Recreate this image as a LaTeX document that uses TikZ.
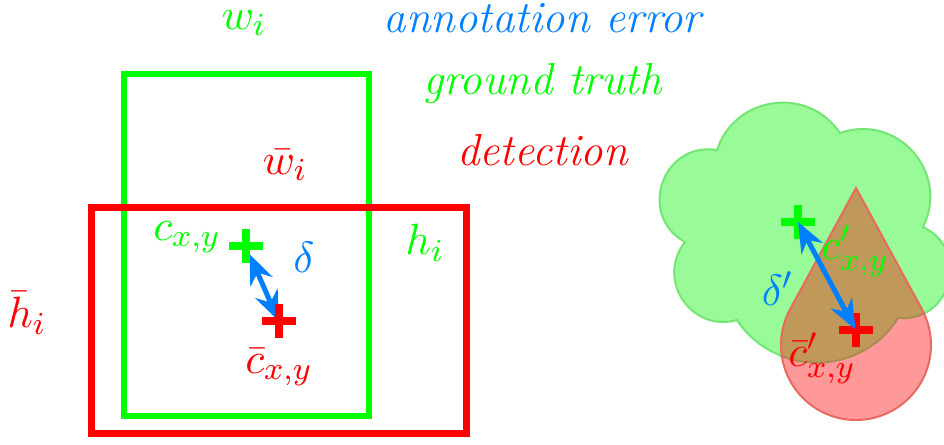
\documentclass[tikz,border=0pt]{standalone}
\usetikzlibrary{arrows.meta}
\definecolor{aeblue}{RGB}{0,128,255}
\definecolor{cloudfill}{RGB}{152,251,152}
\definecolor{cloudedge}{RGB}{115,230,115}
\definecolor{tearfill}{RGB}{255,153,153}
\definecolor{tearedge}{RGB}{232,105,95}
\definecolor{mixfill}{RGB}{192,152,90}
\definecolor{mixedge}{RGB}{170,140,80}
\def\cloudoutline{(717,150) to[bend left=64,looseness=1.18] (840,133)
  to[bend left=68,looseness=1.24] (923,227)
  to[bend left=80,looseness=1.45] (898,318)
  to[bend left=57,looseness=1.10] (737,320)
  to[bend left=72,looseness=1.30] (685,242)
  to[bend left=80,looseness=1.45] (717,150) -- cycle}
\def\tearoutline{(856,188) -- (790.1,309.2) arc[start angle=208.5,end angle=-28.5,radius=75] -- cycle}
\begin{document}
\begin{tikzpicture}[x=0.25pt,y=-0.25pt,
  font=\fontsize{11.2}{13}\selectfont,
  gtbox/.style={draw=green,line width=1.5pt},
  detbox/.style={draw=red,line width=1.75pt},
  lbl/.style={inner sep=0pt},
  plusmark/.style={line width=2pt},
  errarrow/.style={aeblue,line width=1.25pt,
    {Stealth[length=7.5pt,width=6pt]}-{Stealth[length=7.5pt,width=6pt]}}]
\useasboundingbox (0,0) rectangle (944,444);
\clip (0,0) rectangle (944,444);

% boxes
\draw[gtbox] (124,74) rectangle (369,416);
\draw[detbox] (91,207) rectangle (466,433);

% legend and labels
\node[lbl,text=green] (w) at (244,23) {$w_i$};
\node[lbl,text=aeblue] (ae) at (544,18) {\textit{annotation error}};
\node[lbl,text=green] (gt) at (543,84) {\textit{ground truth}};
\node[lbl,text=red] (det) at (543,150) {\textit{detection}};
\node[lbl,text=red] (wb) at (285,165) {$\bar{w}_i$};
\node[lbl,text=green] (cxy) at (187,237) {$c_{x,y}$};
\node[lbl,text=aeblue] (d) at (304,257) {$\delta$};
\node[lbl,text=green] (h) at (425,243) {$h_i$};
\node[lbl,text=red] (hb) at (27,313) {$\bar{h}_i$};
\node[lbl,text=red] (cbxy) at (279,367) {$\bar{c}_{x,y}$};

% left centres
\coordinate (cg) at (246,246);
\coordinate (cr) at (278.5,321);
\draw[errarrow,shorten <=2.2pt] (cg) -- (cr);
\draw[green,plusmark] (cg) ++(-17,0) -- ++(34,0) (cg) ++(0,-17) -- ++(0,34);
\draw[red,plusmark] (cr) ++(-17,0) -- ++(34,0) (cr) ++(0,-17) -- ++(0,34);

% cloud and teardrop (overlap colour mixed by hand)
\filldraw[fill=cloudfill, draw=cloudedge, line width=0.5pt] \cloudoutline;
\fill[tearfill] \tearoutline;
\begin{scope}
  \clip \tearoutline;
  \filldraw[fill=mixfill, draw=mixedge, line width=0.5pt] \cloudoutline;
\end{scope}
\draw[tearedge, line width=0.5pt] \tearoutline;

\coordinate (cg2) at (798,222);
\coordinate (cr2) at (855.5,329.5);
\draw[green,plusmark] (cg2) ++(-17,0) -- ++(34,0) (cg2) ++(0,-17) -- ++(0,34);
\draw[red,plusmark] (cr2) ++(-17,0) -- ++(34,0) (cr2) ++(0,-17) -- ++(0,34);
\draw[errarrow] (cg2) -- (cr2);

\node[lbl,text=green] (cxy2) at (855,251) {$c'_{x,y}$};
\node[lbl,text=aeblue] (d2) at (778,289) {$\delta'$};
\node[lbl,text=red] (cbxy2) at (822,358) {$\bar{c}'_{x,y}$};
\end{tikzpicture}
\end{document}
